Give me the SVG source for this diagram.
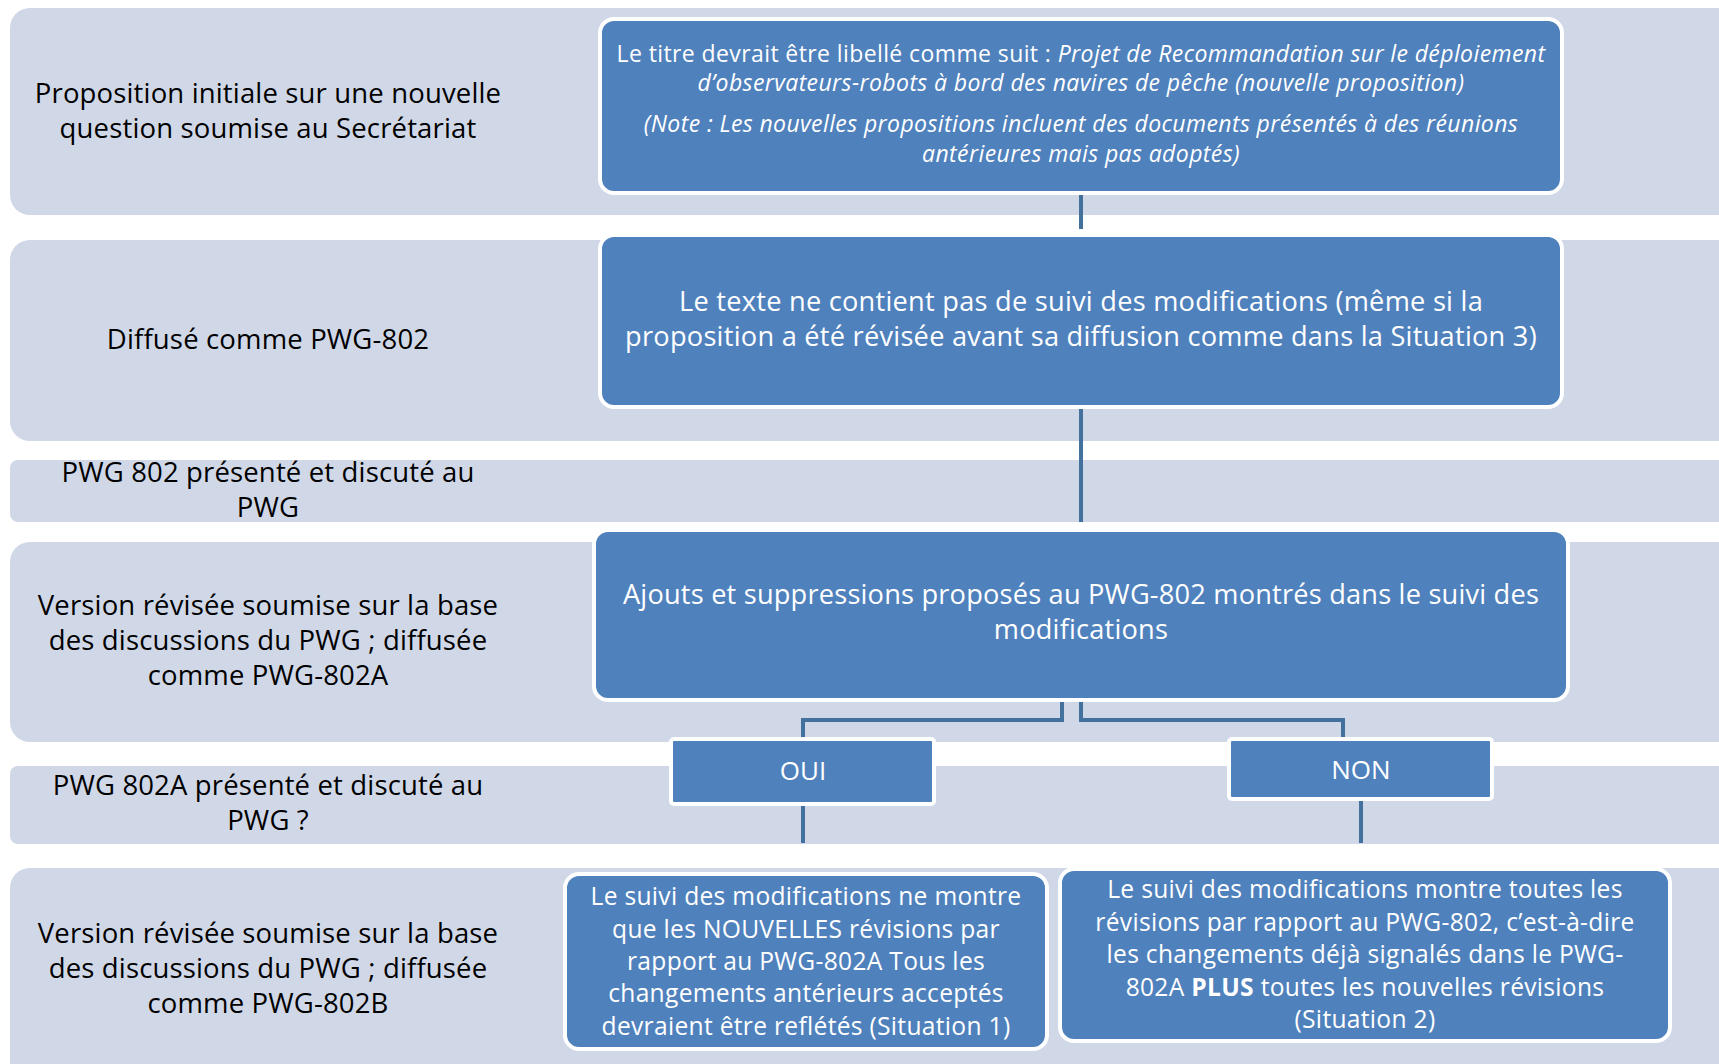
<svg xmlns="http://www.w3.org/2000/svg" width="1719" height="1064" viewBox="0 0 1719 1064">
<style>
.band{fill:#D0D8E8}
.node{fill:#4F81BD;stroke:#FFFFFF;stroke-width:4}
.lbl{font-family:"Open Sans",Lato,sans-serif;font-size:27.5px;letter-spacing:0.15px;fill:#000;text-anchor:middle}
.nt{font-family:"Open Sans",Lato,sans-serif;fill:#FFFFFF;text-anchor:middle}
.t1{font-size:23px;letter-spacing:0.4px}
.t2{font-size:27.2px;letter-spacing:0.25px}
.t3{font-size:27.2px;letter-spacing:0.2px}
.sit{font-size:24.6px;letter-spacing:0.3px}
.conn{fill:none;stroke:#41719C;stroke-width:4}
</style>
<rect width="1719" height="1064" fill="#FFFFFF"/>
<g id="bands">
<rect class="band" x="10" y="8" width="1740" height="207" rx="20"/>
<rect class="band" x="10" y="240" width="1740" height="201" rx="20"/>
<rect class="band" x="10" y="460" width="1740" height="62" rx="8"/>
<rect class="band" x="10" y="542" width="1740" height="200" rx="20"/>
<rect class="band" x="10" y="766" width="1740" height="78" rx="8"/>
<rect class="band" x="10" y="868" width="1740" height="220" rx="20"/>
</g>
<g id="labels">
<text class="lbl"><tspan x="268" y="103">Proposition initiale sur une nouvelle</tspan><tspan x="268" y="138">question soumise au Secrétariat</tspan></text>
<text class="lbl" x="268" y="349">Diffusé comme PWG-802</text>
<text class="lbl"><tspan x="268" y="482">PWG 802 présenté et discuté au</tspan><tspan x="268" y="517">PWG</tspan></text>
<text class="lbl"><tspan x="268" y="615">Version révisée soumise sur la base</tspan><tspan x="268" y="650">des discussions du PWG ; diffusée</tspan><tspan x="268" y="685">comme PWG-802A</tspan></text>
<text class="lbl"><tspan x="268" y="795">PWG 802A présenté et discuté au</tspan><tspan x="268" y="830">PWG ?</tspan></text>
<text class="lbl"><tspan x="268" y="943">Version révisée soumise sur la base</tspan><tspan x="268" y="978">des discussions du PWG ; diffusée</tspan><tspan x="268" y="1013">comme PWG-802B</tspan></text>
</g>
<g id="connectors">
<line class="conn" x1="1081" y1="193" x2="1081" y2="229"/>
<line class="conn" x1="1081" y1="407" x2="1081" y2="522"/>
<polyline class="conn" points="1062,700 1062,720 803,720 803,739"/>
<polyline class="conn" points="1081,700 1081,720 1343,720 1343,739"/>
<line class="conn" x1="803" y1="804" x2="803" y2="843"/>
<line class="conn" x1="1361" y1="799" x2="1361" y2="843"/>
</g>
<g id="node1">
<rect class="node" x="600" y="19" width="962" height="174" rx="14"/>
<text class="nt t1"><tspan x="1081" y="62">Le titre devrait être libellé comme suit : <tspan font-style="italic">Projet de Recommandation sur le déploiement</tspan></tspan><tspan font-style="italic" x="1081" y="91">d’observateurs-robots à bord des navires de pêche (nouvelle proposition)</tspan><tspan font-style="italic" x="1081" y="132">(Note : Les nouvelles propositions incluent des documents présentés à des réunions</tspan><tspan font-style="italic" x="1081" y="162">antérieures mais pas adoptés)</tspan></text>
</g>
<g id="node2">
<rect class="node" x="600" y="235" width="962" height="172" rx="14"/>
<text class="nt t2"><tspan x="1081" y="311">Le texte ne contient pas de suivi des modifications (même si la</tspan><tspan x="1081" y="346">proposition a été révisée avant sa diffusion comme dans la Situation 3)</tspan></text>
</g>
<g id="node3">
<rect class="node" x="594" y="530" width="974" height="170" rx="14"/>
<text class="nt t3"><tspan x="1081" y="604">Ajouts et suppressions proposés au PWG-802 montrés dans le suivi des</tspan><tspan x="1081" y="639">modifications</tspan></text>
</g>
<g id="oui">
<rect class="node" x="671" y="739" width="263" height="65" rx="3"/>
<text class="nt" font-size="26" x="803" y="780">OUI</text>
</g>
<g id="non">
<rect class="node" x="1229" y="739" width="263" height="60" rx="3"/>
<text class="nt" font-size="26" x="1361" y="779">NON</text>
</g>
<g id="node-situation1">
<rect class="node" x="565" y="874" width="482" height="175" rx="14"/>
<text class="nt sit"><tspan x="806" y="905">Le suivi des modifications ne montre</tspan><tspan x="806" y="938">que les NOUVELLES révisions par</tspan><tspan x="806" y="970">rapport au PWG-802A Tous les</tspan><tspan x="806" y="1002">changements antérieurs acceptés</tspan><tspan x="806" y="1035">devraient être reflétés (Situation 1)</tspan></text>
</g>
<g id="node-situation2">
<rect class="node" x="1060" y="869" width="610" height="172" rx="14"/>
<text class="nt sit"><tspan x="1365" y="898">Le suivi des modifications montre toutes les</tspan><tspan x="1365" y="931">révisions par rapport au PWG-802, c’est-à-dire</tspan><tspan x="1365" y="963">les changements déjà signalés dans le PWG-</tspan><tspan x="1365" y="996">802A <tspan font-weight="bold">PLUS</tspan> toutes les nouvelles révisions</tspan><tspan x="1365" y="1028">(Situation 2)</tspan></text>
</g>
</svg>
